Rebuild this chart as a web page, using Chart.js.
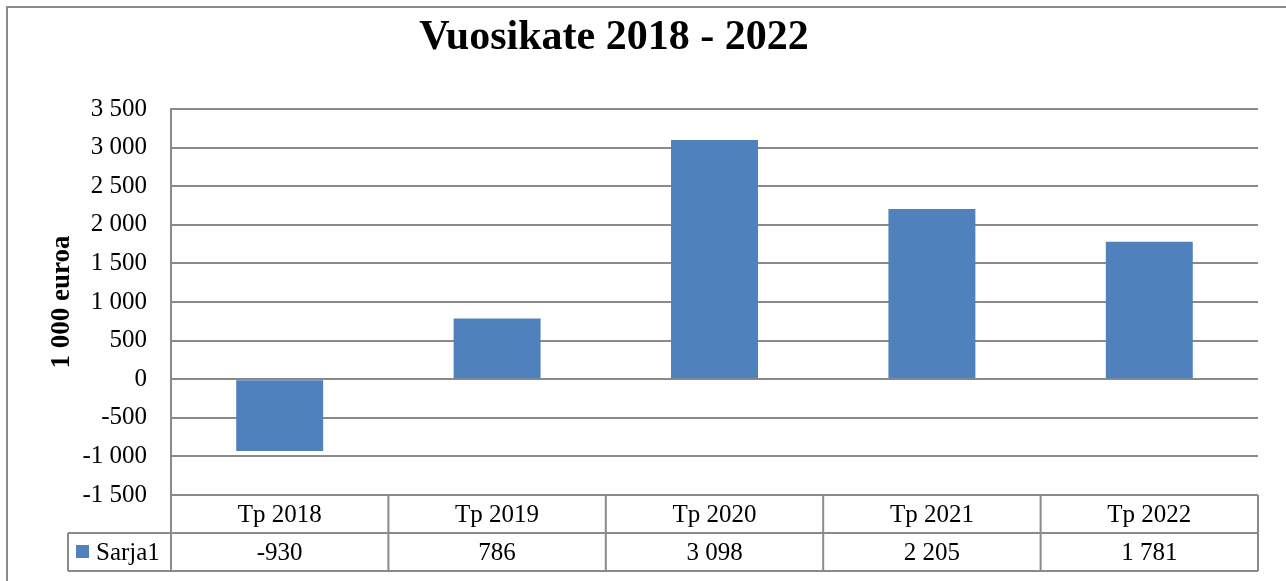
<!DOCTYPE html>
<html>
<head>
<meta charset="utf-8">
<script src="https://cdn.jsdelivr.net/npm/chart.js@4.4.1/dist/chart.umd.min.js"></script>
<style>
  html, body { margin: 0; padding: 0; background: #ffffff; }
  #wrap { width: 1286px; height: 581px; position: relative; }
</style>
</head>
<body>
<div id="wrap"><canvas id="c" width="1286" height="581"></canvas></div>
<script>
const chartTitle = 'Vuosikate 2018 - 2022';
const yAxisTitle = '1 000 euroa';
const seriesName = 'Sarja1';
const categories = ['Tp 2018', 'Tp 2019', 'Tp 2020', 'Tp 2021', 'Tp 2022'];
const values = [-930, 786, 3098, 2205, 1781];
const yTickValues = [-1500, -1000, -500, 0, 500, 1000, 1500, 2000, 2500, 3000, 3500];

const BAR_COLOR = '#4F81BD';
const LINE_COLOR = '#8a8a8a';
const FONT = '"Liberation Serif", "Times New Roman", serif';

function fmt(v) {
  const s = String(Math.abs(v)).replace(/\B(?=(\d{3})+(?!\d))/g, ' ');
  return (v < 0 ? '-' : '') + s;
}

const decorPlugin = {
  id: 'decor',
  beforeDraw(chart) {
    const ctx = chart.ctx;
    ctx.save();
    ctx.fillStyle = '#ffffff';
    ctx.fillRect(0, 0, chart.width, chart.height);
    // outer chart border
    ctx.strokeStyle = LINE_COLOR;
    ctx.lineWidth = 2;
    ctx.beginPath();
    ctx.moveTo(7, chart.height + 2);
    ctx.lineTo(7, 7);
    ctx.lineTo(chart.width + 2, 7);
    ctx.stroke();
    ctx.restore();
  },
  afterDraw(chart) {
    const ctx = chart.ctx;
    const area = chart.chartArea;
    const xs = chart.scales.x;
    ctx.save();
    // title
    ctx.fillStyle = '#000';
    ctx.font = 'bold 42px ' + FONT;
    ctx.textAlign = 'center';
    ctx.textBaseline = 'middle';
    ctx.fillText(chartTitle, 614, 38);
    // y axis title
    ctx.save();
    ctx.translate(62, (area.top + area.bottom) / 2);
    ctx.rotate(-Math.PI / 2);
    ctx.font = 'bold 27px ' + FONT;
    ctx.fillText(yAxisTitle, 0, 0);
    ctx.restore();

    // data table
    const n = categories.length;
    const colW = (area.right - area.left) / n;
    const rowH = 38;
    const top = area.bottom;
    const mid = top + rowH;
    const bot = mid + rowH;
    const legendLeft = 68;
    ctx.strokeStyle = LINE_COLOR;
    ctx.lineWidth = 2;
    ctx.beginPath();
    ctx.moveTo(area.left, top); ctx.lineTo(area.right, top);
    ctx.moveTo(legendLeft, mid); ctx.lineTo(area.right, mid);
    ctx.moveTo(legendLeft, bot); ctx.lineTo(area.right, bot);
    ctx.moveTo(legendLeft, mid); ctx.lineTo(legendLeft, bot);
    for (let i = 0; i <= n; i++) {
      const x = area.left + i * colW;
      ctx.moveTo(x, top); ctx.lineTo(x, bot);
    }
    ctx.stroke();

    ctx.font = '25px ' + FONT;
    ctx.fillStyle = '#000';
    ctx.textAlign = 'center';
    ctx.textBaseline = 'middle';
    for (let i = 0; i < n; i++) {
      const cx = xs.getPixelForValue(i);
      ctx.fillText(categories[i], cx, top + rowH / 2 + 1);
      ctx.fillText(fmt(values[i]), cx, mid + rowH / 2 + 1);
    }
    // legend key
    ctx.fillStyle = BAR_COLOR;
    ctx.fillRect(76, mid + 12, 13, 13);
    ctx.fillStyle = '#000';
    ctx.textAlign = 'left';
    ctx.fillText(seriesName, 96, mid + rowH / 2 + 1);
    ctx.restore();
  }
};

new Chart(document.getElementById('c'), {
  type: 'bar',
  data: {
    labels: categories,
    datasets: [{
      label: seriesName,
      data: values,
      backgroundColor: BAR_COLOR,
      borderWidth: 0,
      barPercentage: 0.4,
      categoryPercentage: 1.0
    }]
  },
  options: {
    responsive: false,
    animation: false,
    devicePixelRatio: 1,
    layout: { padding: { top: 109, right: 28, bottom: 86, left: 0 } },
    plugins: {
      legend: { display: false },
      title: { display: false },
      tooltip: { enabled: false }
    },
    scales: {
      x: {
        type: 'category',
        display: false,
        offset: true,
        grid: { display: false }
      },
      y: {
        min: -1500,
        max: 3500,
        afterBuildTicks(scale) {
          scale.ticks = yTickValues.map(v => ({ value: v }));
        },
        afterFit(scale) { scale.width = 171; },
        border: { display: true, color: LINE_COLOR, width: 2 },
        grid: { color: LINE_COLOR, lineWidth: 2, drawTicks: false },
        ticks: {
          padding: 24,
          color: '#000',
          font: { family: FONT, size: 25 },
          callback: (v) => fmt(v)
        }
      }
    }
  },
  plugins: [decorPlugin]
});
</script>
</body>
</html>
